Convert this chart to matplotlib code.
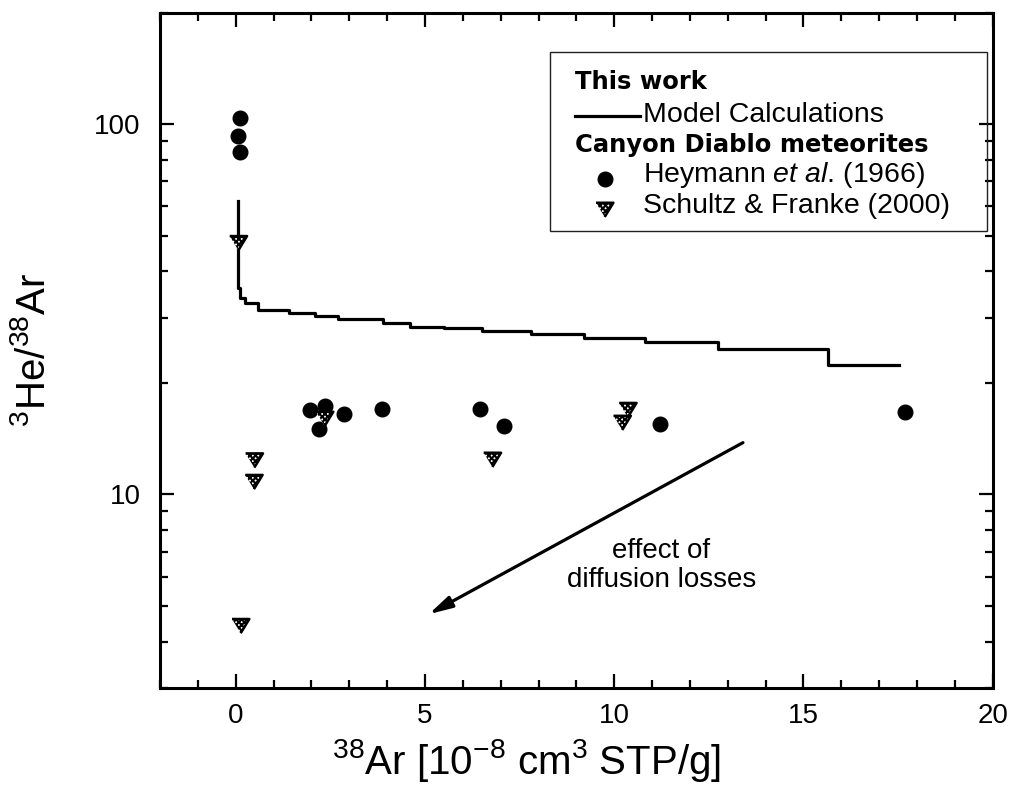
import matplotlib
matplotlib.use("Agg")
import matplotlib.pyplot as plt
from matplotlib.patches import Rectangle
from matplotlib.ticker import LogLocator, MultipleLocator, NullFormatter

plt.rcParams["font.family"] = ["Liberation Sans", "DejaVu Sans"]
plt.rcParams["mathtext.fontset"] = "custom"
plt.rcParams["mathtext.rm"] = "Liberation Sans"
plt.rcParams["mathtext.it"] = "Liberation Sans:italic"
plt.rcParams["mathtext.default"] = "regular"
plt.rcParams["hatch.linewidth"] = 1.5

# ── data ──────────────────────────────────────────────────────────────────────
model_x = [0.05, 0.05, 0.1, 0.25, 0.6, 1.4, 2.1, 2.7, 3.9, 4.6, 5.5, 6.5, 7.8, 9.2, 10.8, 12.75, 15.64, 17.52]
model_y = [62, 36, 34, 32.9, 31.5, 30.9, 30.3, 29.8, 29.0, 28.4, 28.2, 27.6, 27.1, 26.4, 25.8, 24.7, 22.3, 22.3]

heymann_x = [0.12, 0.07, 0.12, 1.97, 2.35, 2.21, 2.87, 3.87, 6.45, 7.09, 11.2, 17.69]
heymann_y = [104, 93, 84, 16.9, 17.3, 15.0, 16.5, 17.0, 17.0, 15.3, 15.5, 16.7]

schultz_x = [0.07, 0.49, 0.48, 0.13, 2.35, 6.78, 10.36, 10.21]
schultz_y = [47.7, 12.35, 10.8, 4.41, 16.0, 12.4, 16.9, 15.6]

arrow_start = (13.4, 13.8)
arrow_end = (5.1, 4.75)

xticks = [0, 5, 10, 15, 20]
xticklabels = ["0", "5", "10", "15", "20"]
yticks = [10, 100]
yticklabels = ["10", "100"]

# ── figure ───────────────────────────────────────────────────────────────────
fig = plt.figure(figsize=(10.13, 7.90), dpi=100)
ax = fig.add_axes([0.158, 0.129, 0.822, 0.855])

ax.set_yscale("log")
ax.set_xlim(-2, 20)
ax.set_ylim(3, 200)

ax.plot(model_x, model_y, color="black", lw=2.3, drawstyle="steps-post")
ax.plot(heymann_x, heymann_y, "o", color="black", ms=10.5, zorder=4)

tri = [(-1, 0.82), (1, 0.82), (0, -0.82)]
ax.scatter(schultz_x, schultz_y, marker=tri, s=12.5 ** 2, facecolor="white",
           edgecolor="black", hatch="xxxxxx", linewidths=1.8, zorder=5)

ax.annotate("", xy=arrow_end, xytext=arrow_start,
            arrowprops=dict(arrowstyle="-|>,head_length=0.7,head_width=0.18",
                            lw=2.3, color="black", mutation_scale=20,
                            shrinkA=0, shrinkB=0))
ax.text(11.25, 6.44, "effect of\ndiffusion losses", fontsize=20,
        ha="center", va="center", multialignment="center", linespacing=1.15)

# ── axes styling ─────────────────────────────────────────────────────────────
ax.set_xticks(xticks)
ax.set_xticklabels(xticklabels)
ax.xaxis.set_minor_locator(MultipleLocator(1))
ax.set_yticks(yticks)
ax.set_yticklabels(yticklabels)
ax.yaxis.set_minor_locator(LogLocator(base=10, subs=range(2, 10)))
ax.yaxis.set_minor_formatter(NullFormatter())

ax.tick_params(which="both", direction="in", top=True, right=True, width=1.6)
ax.tick_params(which="major", length=10, labelsize=20)
ax.tick_params(axis="x", which="major", pad=11)
ax.tick_params(axis="y", which="major", pad=14)
ax.tick_params(which="minor", length=5.5)
for s in ax.spines.values():
    s.set_linewidth(2.2)

ax.set_xlabel("$^{38}$Ar [10$^{-8}$ cm$^{3}$ STP/g]", fontsize=29)
ax.xaxis.set_label_coords(0.44, -0.107)
ax.xaxis.label.set_va("center")
ax.set_ylabel("$^{3}$He/$^{38}$Ar", fontsize=29)
ax.yaxis.set_label_coords(-0.152, 0.5)
ax.yaxis.label.set_va("center")

# ── legend (drawn by hand, axes coords) ──────────────────────────────────────
tr = ax.transAxes
ax.add_patch(Rectangle((0.468, 0.677), 0.525, 0.264, transform=tr, fill=False,
                       edgecolor="#222222", lw=1.0, zorder=6))
bold = dict(family="DejaVu Sans", fontweight="bold", fontsize=17.5)
ax.text(0.498, 0.898, "This work", transform=tr, va="center", **bold)
ax.plot([0.498, 0.576], [0.847, 0.847], transform=tr, color="black", lw=2.3)
ax.text(0.580, 0.849, "Model Calculations", transform=tr, va="center", fontsize=20.5)
ax.text(0.498, 0.804, "Canyon Diablo meteorites", transform=tr, va="center", **bold)
ax.plot([0.534], [0.753], "o", transform=tr, color="black", ms=10.5)
ax.text(0.580, 0.760, "Heymann $\\mathit{et\\ al}$. (1966)", transform=tr,
        va="center", fontsize=20.5)
ax.scatter([0.534], [0.708], marker=tri, s=12.5 ** 2, transform=tr, facecolor="white",
           edgecolor="black", hatch="xxxxxx", linewidths=1.8, zorder=7)
ax.text(0.580, 0.714, "Schultz & Franke (2000)", transform=tr, va="center", fontsize=20.5)

fig.savefig("out.png", dpi=100)
